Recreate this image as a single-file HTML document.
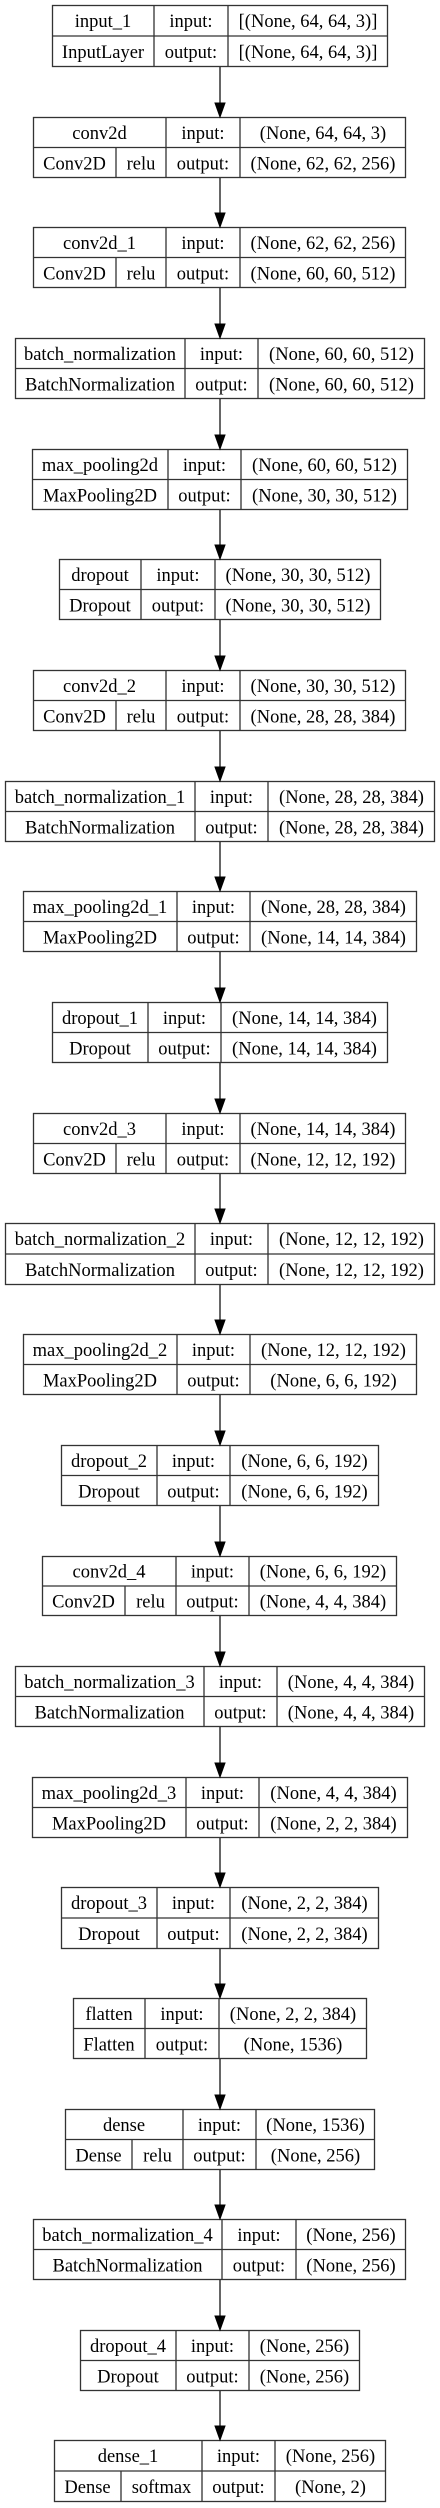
<!DOCTYPE html>
<html><head><meta charset="utf-8">
<style>
html,body{margin:0;padding:0;background:#fff;}
svg{display:block;}
svg text{font-family:"Liberation Serif","DejaVu Serif",serif;font-size:18.5px;fill:#000;}
</style></head>
<body>
<svg id="g" width="440" height="2508" viewBox="0 0 440 2508" xmlns="http://www.w3.org/2000/svg" font-family="Liberation Serif, DejaVu Serif, serif" font-size="18.5"></svg>
<script>
const layerNames = ["input_1","conv2d","conv2d_1","batch_normalization","max_pooling2d","dropout","conv2d_2","batch_normalization_1","max_pooling2d_1","dropout_1","conv2d_3","batch_normalization_2","max_pooling2d_2","dropout_2","conv2d_4","batch_normalization_3","max_pooling2d_3","dropout_3","flatten","dense","batch_normalization_4","dropout_4","dense_1"];
const layerTypes = ["InputLayer","Conv2D","Conv2D","BatchNormalization","MaxPooling2D","Dropout","Conv2D","BatchNormalization","MaxPooling2D","Dropout","Conv2D","BatchNormalization","MaxPooling2D","Dropout","Conv2D","BatchNormalization","MaxPooling2D","Dropout","Flatten","Dense","BatchNormalization","Dropout","Dense"];
const activations = ["","relu","relu","","","","relu","","","","relu","","","","relu","","","","","relu","","","softmax"];
const inputShapes = ["[(None, 64, 64, 3)]","(None, 64, 64, 3)","(None, 62, 62, 256)","(None, 60, 60, 512)","(None, 60, 60, 512)","(None, 30, 30, 512)","(None, 30, 30, 512)","(None, 28, 28, 384)","(None, 28, 28, 384)","(None, 14, 14, 384)","(None, 14, 14, 384)","(None, 12, 12, 192)","(None, 12, 12, 192)","(None, 6, 6, 192)","(None, 6, 6, 192)","(None, 4, 4, 384)","(None, 4, 4, 384)","(None, 2, 2, 384)","(None, 2, 2, 384)","(None, 1536)","(None, 256)","(None, 256)","(None, 256)"];
const outputShapes = ["[(None, 64, 64, 3)]","(None, 62, 62, 256)","(None, 60, 60, 512)","(None, 60, 60, 512)","(None, 30, 30, 512)","(None, 30, 30, 512)","(None, 28, 28, 384)","(None, 28, 28, 384)","(None, 14, 14, 384)","(None, 14, 14, 384)","(None, 12, 12, 192)","(None, 12, 12, 192)","(None, 6, 6, 192)","(None, 6, 6, 192)","(None, 4, 4, 384)","(None, 4, 4, 384)","(None, 2, 2, 384)","(None, 2, 2, 384)","(None, 1536)","(None, 256)","(None, 256)","(None, 256)","(None, 2)"];

// layout geometry (pixels): [x0, x1, nameColEnd, labelColEnd, activationSplit, yTop, yBottom]
const geom = [
[52,388,154,228,0,5,67],[33,406,166,240,116,117,178],[33,406,166,240,116,227,288],
[15,425,185,258,0,338,399],[32,408,168,241,0,449,510],[59,381,141,215,0,559,620],
[33,406,166,240,116,670,731],[5,435,195,268,0,781,842],[23,417,177,250,0,891,952],
[52,388,148,221,0,1002,1063],[33,406,166,240,116,1113,1174],[5,435,195,268,0,1223,1285],
[23,417,177,250,0,1334,1395],[61,379,157,230,0,1445,1506],[42,397,176,249,125,1556,1616],
[15,425,204,277,0,1666,1727],[32,408,186,259,0,1777,1838],[61,379,157,230,0,1887,1949],
[73,367,145,219,0,1998,2059],[65,375,183,256,132,2109,2170],[33,406,222,296,0,2219,2280],
[80,360,176,249,0,2330,2391],[54,386,202,275,121,2440,2502]];

const NS="http://www.w3.org/2000/svg";
const svg=document.getElementById('g');
function mk(tag,attrs,parent){const e=document.createElementNS(NS,tag);for(const k in attrs)e.setAttribute(k,attrs[k]);(parent||svg).appendChild(e);return e;}
function txt(p,x,y,s){const t=mk('text',{x:x,y:y,'text-anchor':'middle','font-family':'Liberation Serif, DejaVu Serif, serif','font-size':'18.5'},p);t.textContent=s;return t;}
const AX=220;
for(let i=0;i<layerNames.length;i++){
  const [x0,x1,d1,d2,sp,y0,y1]=geom[i];
  const ym=(y0+y1)/2;
  const g=mk('g',{});
  
  
  mk('rect',{x:x0+0.5,y:y0+0.5,width:x1-x0-1,height:y1-y0-1,fill:'#fff',stroke:'#333','stroke-width':1.3},g);
  mk('line',{x1:x0,y1:ym,x2:x1,y2:ym,stroke:'#333','stroke-width':1.3},g);
  mk('line',{x1:d1,y1:y0,x2:d1,y2:y1,stroke:'#333','stroke-width':1.3},g);
  mk('line',{x1:d2,y1:y0,x2:d2,y2:y1,stroke:'#333','stroke-width':1.3},g);
  const r1=y0+(ym-y0)/2+6.5, r2=ym+(y1-ym)/2+6.5;
  const n=txt(g,(x0+d1)/2,r1,layerNames[i]);
  
  
  if(activations[i]){
    mk('line',{x1:sp,y1:ym,x2:sp,y2:y1,stroke:'#333','stroke-width':1.3},g);
    const t=txt(g,(x0+sp)/2,r2,layerTypes[i]);
    
    
    const a=txt(g,(sp+d1)/2,r2,activations[i]);
    
    
  } else {
    const t=txt(g,(x0+d1)/2,r2,layerTypes[i]);
    
    
  }
  const il=txt(g,(d1+d2)/2,r1,'input:');
  
  
  const ol=txt(g,(d1+d2)/2,r2,'output:');
  
  
  const is=txt(g,(d2+x1)/2,r1,inputShapes[i]);
  
  
  const os=txt(g,(d2+x1)/2,r2,outputShapes[i]);
  
  
  if(i>0){
    const pb=geom[i-1][6];
    const e=mk('g',{});
    
    
    mk('line',{x1:AX,y1:pb,x2:AX,y2:y0-13,stroke:'#333','stroke-width':1.5},e);
    mk('polygon',{points:(AX-5)+','+(y0-14)+' '+(AX+5)+','+(y0-14)+' '+AX+','+y0,fill:'#000',stroke:'#000','stroke-width':1},e);
  }
}
</script>
</body></html>
